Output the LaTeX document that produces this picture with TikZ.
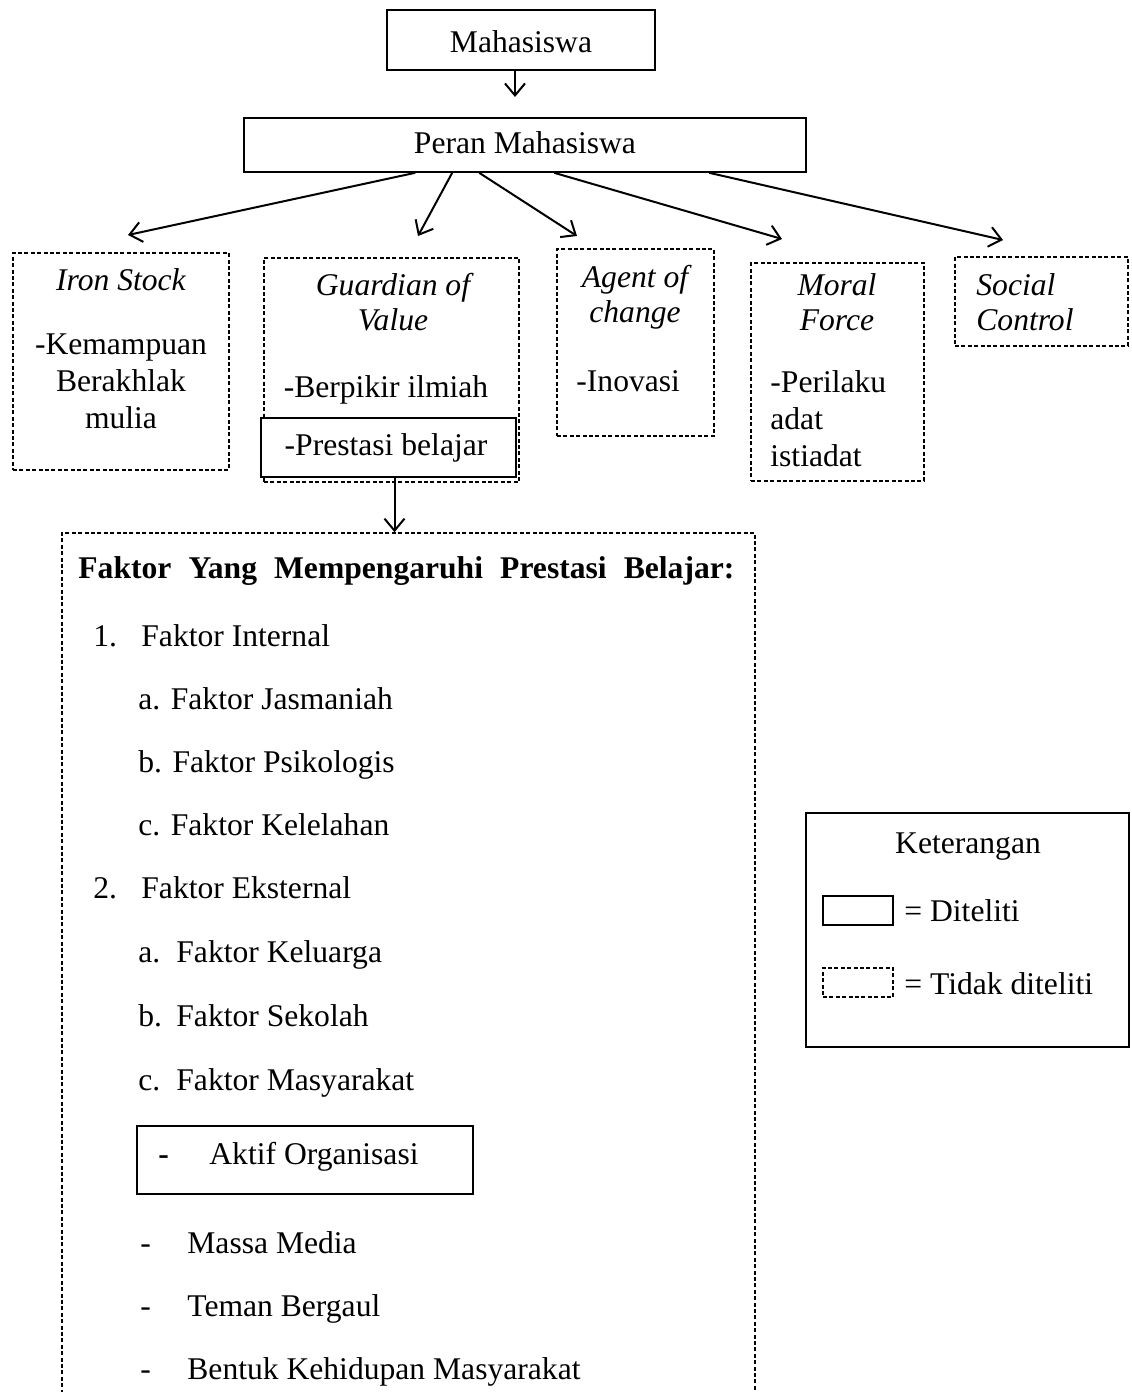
\documentclass[tikz,border=0pt]{standalone}
\usepackage{fontspec}
\setmainfont{Liberation Serif}
\usetikzlibrary{arrows.meta,fit,calc}

\begin{document}
\begin{tikzpicture}[x=0.5pt, y=-0.5pt,
    every node/.style={font=\fontsize{15.8}{18.3}\selectfont, inner sep=0pt},
    solidbox/.style={draw, line width=0.8pt, inner sep=0pt},
    dashbox/.style={draw, line width=0.8pt, dash pattern=on 2pt off 1.2pt, inner sep=0pt},
    arr/.style={line width=1pt, -{Straight Barb[length=6pt,width=10pt]}},
    ttl/.style={font=\fontsize{15.8}{17.5}\selectfont\itshape, anchor=base}]
    \useasboundingbox (0,0) rectangle (1131,1392);
    \node[solidbox, fit={(387,10) (655,70)}] (mhs) {};
    \node[anchor=base] (mhst) at (521,52) {Mahasiswa};
    \node[solidbox, fit={(244,118) (806,172)}] (peran) {};
    \node[anchor=base] (perant) at (525,153) {Peran Mahasiswa};
    \coordinate (tperan) at (515,97);
    \draw[arr] (mhs.south -| tperan) -- (tperan);
    \foreach \sx/\ex/\ey/\nm in {416/128/235/iron, 453/418/236/guard, 480/577/236/agent,
        555/782/239/moral, 710/1003/240/social}{
        \coordinate (t\nm) at (\ex,\ey);
        \draw[arr] ($(peran.south west)+(\sx-244,0)$) -- (t\nm);}
    \node[dashbox, fit={(13,253) (229,470)}] (iron) {};
    \node[ttl] (ironh) at (121,290) {Iron Stock};
    \node[anchor=base, align=center] (ironb) at (121,428) {-Kemampuan\\Berakhlak\\mulia};
    \node[dashbox, fit={(264,258) (519,482)}] (guard) {};
    \node[ttl, align=center] (guardh) at (393,330) {Guardian of\\Value};
    \node[anchor=base] (guardb) at (386,397) {-Berpikir ilmiah};
    \node[solidbox, fill=white, fit={(261,418) (516,477)}] (pres) {};
    \node[anchor=base] (prest) at (386,455) {-Prestasi belajar};
    \node[dashbox, fit={(557,249) (714,436)}] (agent) {};
    \node[ttl, align=center] (agenth) at (635,322) {Agent of\\change};
    \node[anchor=base west] (agentb) at (576,391) {-Inovasi};
    \node[dashbox, fit={(751,263) (924,481)}] (moral) {};
    \node[ttl, align=center] (moralh) at (837,330) {Moral\\Force};
    \node[anchor=base west, align=left] (moralb) at (770,466) {-Perilaku\\adat\\istiadat};
    \node[dashbox, fit={(955,257) (1128,346)}] (social) {};
    \node[ttl, anchor=base west, align=left] (socialh) at (976,330) {Social\\Control};
    \node[dashbox, fit={(62,533) (755,1420)}] (faktor) {};
    \draw[arr] ([xshift=3pt]pres.south) -- ([xshift=3pt]faktor.north -| pres.south);
    \node[anchor=base west, font=\fontsize{15.8}{18.3}\selectfont\bfseries] (fjudul) at (78,578)
        {\makebox[328pt][s]{Faktor Yang Mempengaruhi Prestasi Belajar:}};
    \node[anchor=base west] (n1) at (93,646) {1.};
    \node[anchor=base west] (int) at (141,646) {Faktor Internal};
    \foreach \t [count=\i] in {a. Faktor Jasmaniah, b. Faktor Psikologis, c. Faktor Kelelahan}
        \node[anchor=base west] (int\i) at (138,646+63*\i) {\t};
    \node[anchor=base west] (n2) at (93,898) {2.};
    \node[anchor=base west] (eks) at (141,898) {Faktor Eksternal};
    \foreach \l/\t [count=\i] in {a./Faktor Keluarga, b./Faktor Sekolah, c./Faktor Masyarakat}{
        \node[anchor=base west] (eksl\i) at (138,898+64*\i) {\l};
        \node[anchor=base west] (eks\i) at (176,898+64*\i) {\t};}
    \node[solidbox, fit={(137,1126) (473,1194)}] (aktif) {};
    \node[anchor=base west] (aktifl) at (158,1164) {\textbf{-}};
    \node[anchor=base west] (aktift) at (209,1164) {Aktif Organisasi};
    \foreach \t [count=\i] in {Massa Media, Teman Bergaul, Bentuk Kehidupan Masyarakat}{
        \node[anchor=base west] (lainl\i) at (140,1190+63*\i) {-};
        \node[anchor=base west] (lain\i) at (187,1190+63*\i) {\t};}
    \node[solidbox, fit={(806,813) (1129,1047)}] (ket) {};
    \node[anchor=base] (kett) at (968,853) {Keterangan};
    \node[solidbox, fit={(823,896) (893,925)}] (ketsolid) {};
    \node[anchor=base west] (ketsolidt) at (904,921) {= Diteliti};
    \node[dashbox, fit={(823,968) (893,997)}] (ketdash) {};
    \node[anchor=base west] (ketdasht) at (904,994) {= Tidak diteliti};
\end{tikzpicture}
\end{document}
